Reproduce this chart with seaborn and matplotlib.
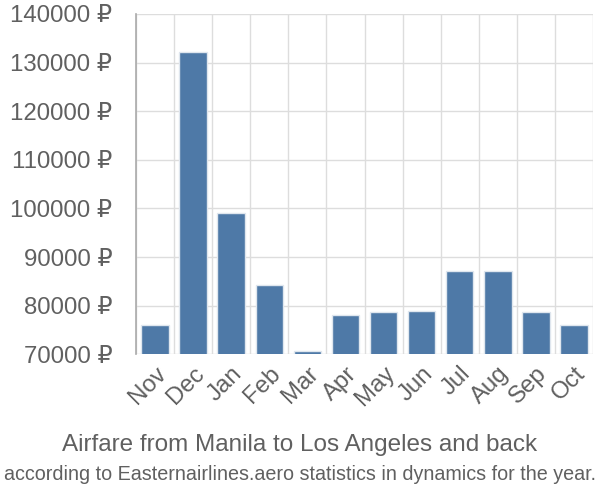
import matplotlib
matplotlib.use("Agg")
import matplotlib.pyplot as plt
import seaborn as sns
import pandas as pd
from matplotlib.ticker import FixedLocator, FuncFormatter

months = ["Nov", "Dec", "Jan", "Feb", "Mar", "Apr", "May", "Jun", "Jul", "Aug", "Sep", "Oct"]
prices = [76000, 132250, 99150, 84200, 70650, 78000, 78750, 78950, 87100, 87100, 78750, 76000]
yticks = [70000, 80000, 90000, 100000, 110000, 120000, 130000, 140000]
title = "Airfare from Manila to Los Angeles and back"
subtitle = "according to Easternairlines.aero statistics in dynamics for the year."

sns.set_style("white")
plt.rcParams["font.family"] = ["Liberation Sans", "DejaVu Sans"]

df = pd.DataFrame({"month": months, "price": prices})

fig = plt.figure(figsize=(6, 5), dpi=100)
ax = fig.add_axes([136 / 600, 1 - 354.3 / 500, (593 - 136) / 600, (354.3 - 14) / 500])

sns.barplot(data=df, x="month", y="price", color="#4e79a7", saturation=1,
            edgecolor="#dfe6ee", linewidth=1.0, width=0.72, ax=ax, zorder=3)

ax.set_ylim(70000, 140000)
ax.set_xlim(-0.5, len(months) - 0.5)
ax.set_yticks(yticks)
ax.yaxis.set_major_formatter(FuncFormatter(lambda v, p: f"{int(v)} \u20bd"))
ax.xaxis.set_minor_locator(FixedLocator([i - 0.5 for i in range(len(months) + 1)]))

grid_c = "#dddddd"
ax.grid(True, axis="y", which="major", color=grid_c, linewidth=1, zorder=0)
ax.grid(True, axis="x", which="minor", color=grid_c, linewidth=1, zorder=0)
ax.set_axisbelow(True)

ax.tick_params(axis="y", which="major", length=15, color=grid_c, width=1, pad=2,
               labelsize=17.3, labelcolor="#606060")
ax.tick_params(axis="x", which="major", length=0, pad=6, labelsize=17.3, labelcolor="#606060")
ax.tick_params(axis="x", which="minor", length=14, color=grid_c, width=1)
for lab in ax.get_xticklabels():
    lab.set_rotation(45)
    lab.set_ha("right")
    lab.set_rotation_mode("anchor")

for s in ["top", "right", "bottom"]:
    ax.spines[s].set_visible(False)
ax.spines["left"].set_color("#aaaaaa")
ax.spines["left"].set_linewidth(1.2)

ax.set_xlabel("")
ax.set_ylabel("")

fig.text(0.5, 1 - 445 / 500, title, ha="center", va="center", fontsize=17.5, color="#606060")
fig.text(0.5, 1 - 474 / 500, subtitle, ha="center", va="center", fontsize=14.2, color="#606060")

fig.savefig("out.png", dpi=100)
